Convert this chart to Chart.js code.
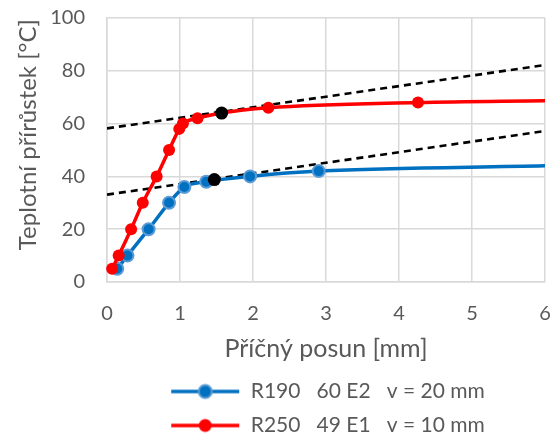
<!DOCTYPE html>
<html><head><meta charset="utf-8">
<script src="https://cdn.jsdelivr.net/npm/chart.js@4/dist/chart.umd.min.js"></script>
<style>html,body{margin:0;padding:0;background:#fff}#w{width:557px;height:437px}</style>
</head><body><div id="w"><canvas id="c"></canvas></div>
<script>
const blueX = [0.14, 0.28, 0.57, 0.85, 1.06, 1.36, 1.96, 2.9, 6];
const blueY = [5, 10, 20, 30, 36, 38, 40, 42, 44];
const blueMarker = [1, 1, 1, 1, 1, 1, 1, 1, 0];
const redX = [0.07, 0.16, 0.33, 0.49, 0.68, 0.85, 0.99, 1.04, 1.24, 1.57, 2.21, 4.26, 6];
const redY = [5, 10, 20, 30, 40, 50, 58, 60, 62, 64, 66, 68, 68.7];
const redMarker = [1, 1, 1, 1, 1, 1, 1, 1, 1, 1, 1, 1, 0];
const tangentRedX = [0, 6], tangentRedY = [58.2, 82.2];
const tangentBlueX = [0, 6], tangentBlueY = [33.1, 57.2];
const kneeX = [1.47, 1.57], kneeY = [38.8, 64];
const xTicks = [0, 1, 2, 3, 4, 5, 6];
const yTicks = [0, 20, 40, 60, 80, 100];
const labelBlue = 'R190   60 E2   v = 20 mm';
const labelRed = 'R250   49 E1   v = 10 mm';
const xTitle = 'Příčný posun [mm]';
const yTitle = 'Teplotní přírůstek [°C]';

const pts = (xs, ys) => xs.map((x, i) => ({x, y: ys[i]}));
const FONT = 'Lato, "Open Sans", sans-serif';
const TXT = '#595959';
const LEG_SIZE = 21;

// legend icon: transparent spacer on the left so the rows sit centred under the plot
const mctx = document.createElement('canvas').getContext('2d');
mctx.font = LEG_SIZE + 'px ' + FONT;
const textW = mctx.measureText(labelBlue).width;
const ICON_W = Math.max(70, Math.round(textW - 64));

function legendIcon(line, fill, border, r) {
  const c = document.createElement('canvas');
  c.width = ICON_W; c.height = 18;
  const g = c.getContext('2d');
  const x0 = ICON_W - 70;
  g.strokeStyle = line; g.lineWidth = 3.5;
  g.beginPath(); g.moveTo(x0 + 1, 9); g.lineTo(x0 + 69, 9); g.stroke();
  g.beginPath(); g.arc(x0 + 35, 9, r, 0, Math.PI * 2);
  g.fillStyle = fill; g.fill();
  if (border) { g.strokeStyle = border; g.lineWidth = 2; g.stroke(); }
  return c;
}
const iconBlue = legendIcon('#0070C0', '#0070C0', '#5B9BD5', 6.5);
const iconRed = legendIcon('#FF0000', '#FF0000', null, 6.5);

new Chart(document.getElementById('c'), {
  type: 'scatter',
  data: {
    datasets: [
      {label: 'tb', data: pts(tangentBlueX, tangentBlueY), showLine: true, borderColor: '#000', borderWidth: 2.6, borderDash: [7, 5], pointRadius: 0, order: 3},
      {label: 'tr', data: pts(tangentRedX, tangentRedY), showLine: true, borderColor: '#000', borderWidth: 2.6, borderDash: [7, 5], pointRadius: 0, order: 3},
      {label: labelBlue, data: pts(blueX, blueY), showLine: true, borderColor: '#0070C0', borderWidth: 3.5,
        cubicInterpolationMode: 'monotone', pointBackgroundColor: '#0070C0', pointBorderColor: '#5B9BD5', pointBorderWidth: 2,
        pointRadius: blueMarker.map(m => m ? 6 : 0), order: 2, clip: 3},
      {label: labelRed, data: pts(redX, redY), showLine: true, borderColor: '#FF0000', borderWidth: 3.5,
        cubicInterpolationMode: 'monotone', pointBackgroundColor: '#FF0000', pointBorderColor: '#FF0000', pointBorderWidth: 0,
        pointRadius: redMarker.map(m => m ? 6 : 0), order: 1, clip: 3},
      {label: 'k', data: pts(kneeX, kneeY), showLine: false, pointBackgroundColor: '#000', pointBorderColor: '#000', pointBorderWidth: 0, pointRadius: 6.5, order: 0}
    ]
  },
  options: {
    responsive: true, maintainAspectRatio: false, animation: false,
    layout: {padding: {left: 10, right: 12, top: 18, bottom: 0}},
    plugins: {
      tooltip: {enabled: false},
      legend: {
        position: 'bottom', maxHeight: 69,
        labels: {
          usePointStyle: true, pointStyleWidth: ICON_W, padding: 13, color: TXT,
          font: {family: FONT, size: LEG_SIZE},
          generateLabels: chart => [
            {text: labelBlue, pointStyle: iconBlue, fontColor: TXT, datasetIndex: 2, lineWidth: 0, strokeStyle: 'transparent', fillStyle: 'transparent'},
            {text: labelRed, pointStyle: iconRed, fontColor: TXT, datasetIndex: 3, lineWidth: 0, strokeStyle: 'transparent', fillStyle: 'transparent'}
          ]
        }
      }
    },
    scales: {
      x: {
        type: 'linear', min: 0, max: 6,
        afterBuildTicks: s => { s.ticks = xTicks.map(v => ({value: v})); },
        afterFit: s => { s.height = 86; s.paddingLeft = 0; s.paddingRight = 0; },
        ticks: {color: TXT, font: {family: FONT, size: 20}, padding: 20},
        grid: {color: '#D9D9D9', lineWidth: 1.5, drawTicks: false},
        border: {color: '#D9D9D9', width: 1.5},
        title: {display: true, text: xTitle, color: TXT, font: {family: FONT, size: 25}, padding: {top: 0, bottom: 4}}
      },
      y: {
        min: 0, max: 100,
        afterBuildTicks: s => { s.ticks = yTicks.map(v => ({value: v})); },
        afterFit: s => { s.width = 97; s.paddingTop = 0; s.paddingBottom = 0; },
        ticks: {color: TXT, font: {family: FONT, size: 20}, padding: 22},
        grid: {color: '#D9D9D9', lineWidth: 1.5, drawTicks: false},
        border: {color: '#D9D9D9', width: 1.5},
        title: {display: true, text: '     ' + yTitle, color: TXT, font: {family: FONT, size: 24}, padding: {top: 4, bottom: 0}}
      }
    }
  }
});
</script></body></html>
